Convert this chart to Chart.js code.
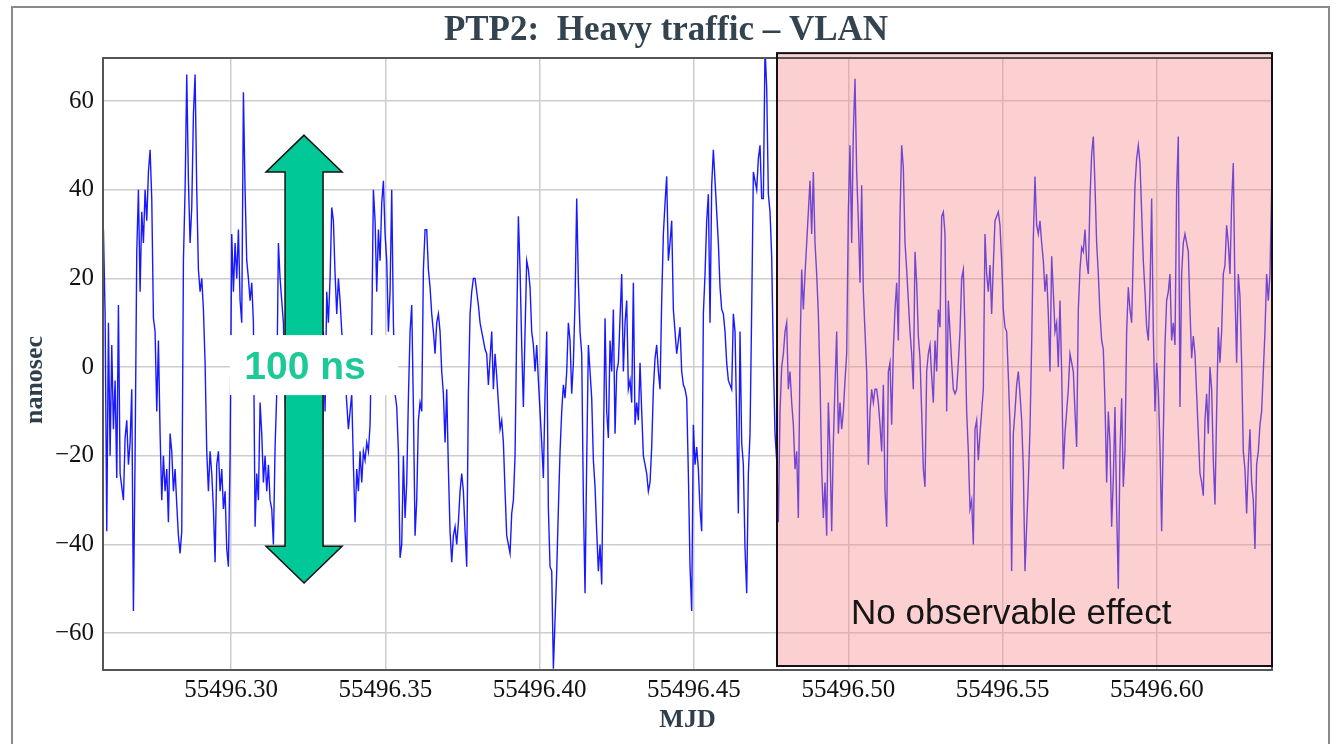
<!DOCTYPE html>
<html>
<head>
<meta charset="utf-8">
<script src="https://cdn.jsdelivr.net/npm/chart.js@4.4.1/dist/chart.umd.min.js"></script>
<style>
  html, body { margin: 0; padding: 0; background: #fff; }
  #wrap { width: 1343px; height: 744px; }
</style>
</head>
<body>
<div id="wrap"><canvas id="ptpChart" width="1343" height="744"></canvas></div>
<script>
// offset (nanosec), sampled evenly in MJD; three parts of the trace, left to right
const offsetPart1 = [
  31, 12, -37, 10, -20, 5, -14, -3, -25, 14, -24, -27, -30, -16, -12, -22, -17, -5, -55, -20,
  26, 40, 17, 35, 28, 40, 33, 44, 49, 38, 11, 8, -10, 6, -15, -30, -20, -28, -23, -35,
  -15, -19, -28, -23, -31, -38, -42, -37, 24, 40, 66, 42, 28, 36, 57, 66, 40, 22, 17, 20,
  13, 1, -19, -28, -19, -24, -32, -44, -22, -19, -28, -23, -32, -28, -41, -45, -20, 30, 17, 28,
  20, 31, 15, 10, 62, 40, 24, 20, 15, 19, 10, -36, -24, -30, -8, -15, -26, -20, -28, -22,
  -30, -32, -40, -18, -6, 28, 20, 15, 10, -5, -20, -30, -38, -25, -10, 5, 18, 25, 10, -5,
  -20, -32, -40, -30, -20, -35, -42, -38, -25, -45, -30, -36, 8, -10, 17, 10, 20, 36, 33, 21,
  12, 20, 15, 8, 5, -2, -8, -14, -10, -6, -22, -35, -23, -28, -19, -26, -19, -21, -17, -19,
  -13, 8, 40, 33, 17, 31, 24, 37, 42, 30, 24, 8, 17, 40, 10, -6, -9, -19, -43, -40,
  -20, -34, -26, -7, 8, 14, -9, -38, -30, -12, -8, -10, 22, 31, 31, 22, 18, 12, 8, 3,
  10, 12, 8, -1, -6, -17, -5, -23, -37, -44, -38, -36, -40, -35, -28, -24, -28, -37, -45, -6,
  12, 17, 20, 20, 17, 14, 10, 8, 6, 4, 3, -4
];
const offsetPart2 = [
  2, 8, -5, 3, -2, -8, -14, -12, -17, -28, -38, -40, -42, -33, -30, -20, 9, 34, 22, 5,
  -9, 8, 24, 22, 18, 8, 5, -1, 5, -3, -10, -17, -25, -6, 8, -32, -45, -46, -68, -57,
  -46, -32, -19, -10, -4, -7, -1, 10, 6, -6, 1, 15, 38, 19, 8, 3, -30, -51, -21, 5,
  -1, -7, -21, -27, -37, -46, -40, -49, -19, 11, -10, -16, 6, -1, 13, -15, -1, 1, 11, 21,
  -1, 10, 15, -5, -3, -8, 19, -13, -8, -12, 1, -10, -20, -22, -24, -28, -26, -18, -5, 2,
  5, -1, -5, 15, 30, 37, 43, 24, 28, 33, 13, 8, 3, 6, 9, -1, -4, -5, -7, -24,
  -45, -55, -13, -22, -18, -23, -32, -37, 12, 21, 33, 39, 10, 41, 49, 42, 35, 28, 18, 13,
  12, 8, 1, -3, -4, -5, 12, 8, -12, -33, 8, -17, -22, -41, -51, -24, -15, 13, 44, 42,
  40, 47, 50, 38, 38, 72, 63, 39, 35, 25, 2, -15, -21, -35, -10, 0, 3, 8, 10, -5,
  -1, -8, -13, -23, -19, -34, 3, 22, 13, 21, 28, 35, 42, 30, 44, 28, 21, 12, -3, -23,
  -34, -26, -38, -8, -19, -37, -17, -4, 8, -15, -8, -14, -10, -3, 3, 35, 50, 28, 53, 65,
  44, 33, 19, 41, 17, 8, -1, -22, -10, -5, -8, -5, -5
];
const offsetPart3 = [
  -8, -13, -19, -4, -28, -36, -1, 1, -13, 4, 13, 19, 6, 34, 50, 45, 28, 22, 15, 8,
  3, -5, 26, 19, 7, 2, -10, -23, -27, -1, 3, 5, -2, -8, 6, -1, 13, 9, 34, 35,
  30, -10, 15, 8, 1, -5, -6, -5, 1, 8, 20, 22, 8, -10, -19, -32, -30, -40, -14, -12,
  -21, -15, -10, -5, 30, 21, 17, 23, 12, 23, 33, 34, 35, 32, 24, 13, 9, 8, -2, -13,
  -46, -15, -10, -4, -1, -6, -12, -23, -46, -36, -26, -14, 5, 29, 43, 32, 30, 33, 28, 24,
  17, 21, 12, -1, 25, 17, 8, 10, 0, 15, -1, -23, -15, -10, -5, 3, 1, -1, -10, -18,
  13, 22, 27, 26, 31, 24, 21, 38, 48, 52, 41, 28, 21, 12, 6, 4, -8, -26, -10, -17,
  -36, -25, -9, -32, -50, -19, -7, -27, -19, 8, 18, 13, 10, 26, 41, 47, 50, 46, 35, 24,
  17, 9, 6, 17, 38, 8, -10, 1, -5, -18, -37, -15, 5, 15, 17, 21, 6, 10, 5, 40,
  52, -9, 21, 28, 30, 28, 26, 13, 2, 7, 3, -6, -15, -24, -26, -29, -12, -6, -15, 0,
  -5, -21, -31, -10, 9, 1, 8, 21, 23, 32, 28, 21, 37, 46, 17, 1, 21, 16, 1, -19,
  -23, -33, -22, -14, -26, -30, -41, -22, -19, -13, -10, -1, 8, 21, 15, 21, 40, 49
];

const mjdStart = 55496.25864;   // first sample
const mjdStep = 0.00054;        // spacing between samples
const xTickValues = [55496.30, 55496.35, 55496.40, 55496.45, 55496.50, 55496.55, 55496.60];
const yTickValues = [-60, -40, -20, 0, 20, 40, 60];
const xRange = [55496.2585, 55496.6373];
const yRange = [-68.3, 69.7];
const shadeStart = 55496.4769;  // start of the "no observable effect" window

const titleText = 'PTP2:  Heavy traffic \u2013 VLAN';
const xTitle = 'MJD';
const yTitle = 'nanosec';
const arrowLabel = '100 ns';
const shadeLabel = 'No observable effect';

const offsets = offsetPart1.concat(offsetPart2, offsetPart3);
const points = offsets.map((v, i) => ({ x: mjdStart + i * mjdStep, y: v }));

function minusLabel(v) {
  return v < 0 ? '\u2212' + Math.abs(v) : String(v);
}

const decorations = {
  id: 'decorations',
  beforeDraw(chart) {
    const c = chart.ctx;
    c.save();
    c.fillStyle = '#ffffff';
    c.fillRect(0, 0, chart.width, chart.height);
    // outer frame
    c.strokeStyle = '#8a8a8a';
    c.lineWidth = 2;
    c.strokeRect(12, 7, 1317, 745);
    // title
    c.fillStyle = '#33434f';
    c.font = 'bold 35px "Liberation Serif"';
    c.textAlign = 'center';
    c.textBaseline = 'alphabetic';
    c.fillText(titleText, 666, 40);
    c.restore();
  },
  afterDatasetsDraw(chart) {
    const c = chart.ctx;
    const xs = chart.scales.x, ys = chart.scales.y;
    const area = chart.chartArea;
    c.save();

    // shaded window
    const sx = xs.getPixelForValue(shadeStart);
    const top = ys.getPixelForValue(70.8), bot = ys.getPixelForValue(-67.4);
    c.fillStyle = 'rgba(248,138,138,0.4)';
    c.fillRect(sx, top, area.right - sx, bot - top);

    // plot border
    c.strokeStyle = '#555';
    c.lineWidth = 2;
    c.strokeRect(area.left, area.top, area.right - area.left, area.bottom - area.top);

    c.strokeStyle = '#111';
    c.lineWidth = 2;
    c.strokeRect(sx, top, area.right - sx, bot - top);

    c.fillStyle = '#151515';
    c.font = '35px "Liberation Sans"';
    c.textAlign = 'left';
    c.textBaseline = 'alphabetic';
    c.fillText(shadeLabel, 851, 624);

    // double arrow, tips at +52 and -49
    const ax = xs.getPixelForValue(55496.32365);
    const tTop = ys.getPixelForValue(52.3), tBot = ys.getPixelForValue(-48.7);
    const hTop = ys.getPixelForValue(44), hBot = ys.getPixelForValue(-40.4);
    const hw = 38, bw = 19;
    c.beginPath();
    c.moveTo(ax, tTop);
    c.lineTo(ax + hw, hTop);
    c.lineTo(ax + bw, hTop);
    c.lineTo(ax + bw, hBot);
    c.lineTo(ax + hw, hBot);
    c.lineTo(ax, tBot);
    c.lineTo(ax - hw, hBot);
    c.lineTo(ax - bw, hBot);
    c.lineTo(ax - bw, hTop);
    c.lineTo(ax - hw, hTop);
    c.closePath();
    c.fillStyle = '#00c896';
    c.fill();
    c.strokeStyle = '#111';
    c.lineWidth = 1.5;
    c.stroke();

    // label box
    const y0 = ys.getPixelForValue(0);
    c.fillStyle = '#ffffff';
    c.fillRect(230, y0 - 32, 168, 60);
    c.fillStyle = '#1ec999';
    c.font = 'bold 39px "Liberation Sans"';
    c.textAlign = 'center';
    c.textBaseline = 'middle';
    c.fillText(arrowLabel, ax + 1, y0 + 1);

    // axis titles
    c.fillStyle = '#2f3e4c';
    c.font = 'bold 26px "Liberation Serif"';
    c.textBaseline = 'alphabetic';
    c.fillText(xTitle, (area.left + area.right) / 2, 727);
    c.translate(42, 380);
    c.rotate(-Math.PI / 2);
    c.textAlign = 'center';
    c.fillText(yTitle, 0, 0);
    c.restore();
  }
};

const tickFont = { family: '"Liberation Serif"', size: 25 };

new Chart(document.getElementById('ptpChart').getContext('2d'), {
  type: 'line',
  data: {
    datasets: [{
      data: points,
      borderColor: 'rgba(0,0,255,0.9)',
      borderWidth: 1.4,
      pointRadius: 0,
      tension: 0,
      fill: false
    }]
  },
  options: {
    responsive: false,
    animation: false,
    devicePixelRatio: 1,
    layout: { padding: { top: 58, right: 71, bottom: 0, left: 0 } },
    plugins: { legend: { display: false }, tooltip: { enabled: false }, title: { display: false } },
    scales: {
      x: {
        type: 'linear',
        min: xRange[0],
        max: xRange[1],
        afterFit(scale) { scale.height = 74; },
        afterBuildTicks(scale) { scale.ticks = xTickValues.map(v => ({ value: v })); },
        ticks: {
          font: tickFont,
          color: '#111',
          padding: 5,
          maxRotation: 0,
          autoSkip: false,
          callback: v => Number(v).toFixed(2)
        },
        grid: { color: '#cdcdcd', lineWidth: 1.5, drawTicks: false },
        border: { display: false }
      },
      y: {
        min: yRange[0],
        max: yRange[1],
        afterFit(scale) { scale.width = 103; },
        afterBuildTicks(scale) { scale.ticks = yTickValues.map(v => ({ value: v })); },
        ticks: {
          font: tickFont,
          color: '#111',
          padding: 9,
          callback: v => minusLabel(v)
        },
        grid: { color: '#cdcdcd', lineWidth: 1.5, drawTicks: false },
        border: { display: false }
      }
    }
  },
  plugins: [decorations]
});
</script>
</body>
</html>
